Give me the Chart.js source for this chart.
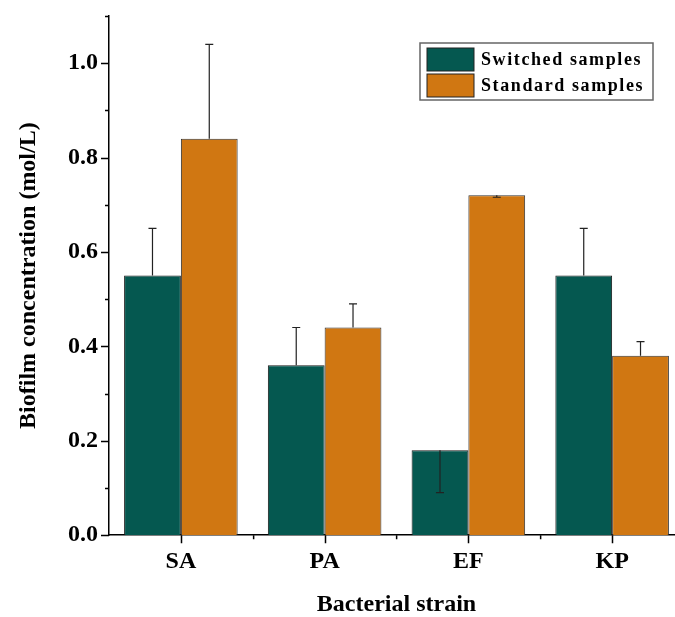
<!DOCTYPE html>
<html>
<head>
<meta charset="utf-8">
<script src="https://cdn.jsdelivr.net/npm/chart.js@4.4.1/dist/chart.umd.min.js"></script>
<style>
  html, body { margin: 0; padding: 0; background: #fff; overflow: hidden; }
  #wrap { width: 700px; height: 617px; }
</style>
</head>
<body>
<div id="wrap"><canvas id="grafica" width="700" height="617"></canvas></div>
<script>
// datos
const cepas = ['SA', 'PA', 'EF', 'KP'];
const switched = [0.55, 0.36, 0.18, 0.55];
const standard = [0.84, 0.44, 0.72, 0.38];
// extremo de la barra de error (puede quedar por debajo de la barra)
const switchedErrEnd = [0.65, 0.44, 0.09, 0.65];
const standardErrEnd = [1.04, 0.49, 0.716, 0.41];
const yMajorTicks = [0, 0.2, 0.4, 0.6, 0.8, 1.0];

const fuente = '"Liberation Serif", "Times New Roman", serif';
const colorVerde = '#055850';
const colorNaranja = '#D07712';

// barras de error
const errorBars = {
    id: 'errorBars',
    afterDatasetsDraw(chart) {
        const ctx = chart.ctx;
        const y = chart.scales.y;
        chart.data.datasets.forEach((ds, i) => {
            const meta = chart.getDatasetMeta(i);
            meta.data.forEach((bar, j) => {
                const yEnd = y.getPixelForValue(ds.errEnd[j]);
                ctx.save();
                ctx.strokeStyle = '#222';
                ctx.lineWidth = 1.2;
                ctx.beginPath();
                ctx.moveTo(bar.x, bar.y);
                ctx.lineTo(bar.x, yEnd);
                ctx.moveTo(bar.x - 4, yEnd);
                ctx.lineTo(bar.x + 4, yEnd);
                ctx.stroke();
                ctx.restore();
            });
        });
    }
};

// marcas de los ejes (mayores y menores)
const axisTicks = {
    id: 'axisTicks',
    afterDraw(chart) {
        const ctx = chart.ctx;
        const x = chart.scales.x;
        const y = chart.scales.y;
        const area = chart.chartArea;
        ctx.save();
        ctx.strokeStyle = '#000';
        ctx.lineWidth = 1.5;
        ctx.beginPath();
        y.ticks.forEach(t => {
            const py = Math.round(y.getPixelForValue(t.value)) + 0.5;
            const major = yMajorTicks.some(v => Math.abs(v - t.value) < 1e-6);
            ctx.moveTo(area.left, py);
            ctx.lineTo(area.left - (major ? 8 : 4), py);
        });
        const half = (x.getPixelForValue(1) - x.getPixelForValue(0)) / 2;
        cepas.forEach((c, i) => {
            const px = Math.round(x.getPixelForValue(i)) + 0.5;
            ctx.moveTo(px, area.bottom);
            ctx.lineTo(px, area.bottom + 8);
            if (i > 0) {
                ctx.moveTo(px - half, area.bottom);
                ctx.lineTo(px - half, area.bottom + 4);
            }
        });
        ctx.stroke();
        ctx.restore();
    }
};

// leyenda con recuadro
const legendBox = {
    id: 'legendBox',
    afterDraw(chart) {
        const ctx = chart.ctx;
        const area = chart.chartArea;
        const bx = area.left + 311, by = area.top + 27;
        const bw = 233, bh = 57;
        ctx.save();
        ctx.strokeStyle = '#666';
        ctx.lineWidth = 1.5;
        ctx.strokeRect(bx, by, bw, bh);
        chart.data.datasets.forEach((ds, i) => {
            const sy = by + 5 + i * 26;
            ctx.fillStyle = ds.backgroundColor;
            ctx.fillRect(bx + 7, sy, 47, 23);
            ctx.strokeStyle = '#222';
            ctx.lineWidth = 1;
            ctx.strokeRect(bx + 7, sy, 47, 23);
            ctx.fillStyle = '#000';
            ctx.font = 'bold 18px ' + fuente;
            ctx.letterSpacing = '1.6px';
            ctx.textBaseline = 'middle';
            ctx.fillText(ds.label, bx + 61, sy + 12);
        });
        ctx.restore();
    }
};

new Chart(document.getElementById('grafica'), {
    type: 'bar',
    data: {
        labels: cepas,
        datasets: [
            {
                label: 'Switched samples',
                data: switched,
                errEnd: switchedErrEnd,
                backgroundColor: colorVerde,
                borderColor: '#1a1a1a',
                borderWidth: 1
            },
            {
                label: 'Standard samples',
                data: standard,
                errEnd: standardErrEnd,
                backgroundColor: colorNaranja,
                borderColor: '#333',
                borderWidth: 1
            }
        ]
    },
    options: {
        responsive: false,
        animation: false,
        layout: { padding: { top: 16, right: 16, left: 5, bottom: 0 } },
        categoryPercentage: 0.79,
        barPercentage: 1.0,
        plugins: {
            legend: { display: false },
            tooltip: { enabled: false }
        },
        scales: {
            x: {
                grid: { display: false, drawTicks: false },
                border: { display: true, color: '#000', width: 1.5 },
                ticks: {
                    color: '#000',
                    padding: 12,
                    font: { family: fuente, size: 24, weight: 'bold' }
                },
                title: {
                    display: true,
                    text: 'Bacterial strain',
                    color: '#000',
                    padding: { top: 5, bottom: 0 },
                    font: { family: fuente, size: 24, weight: 'bold', lineHeight: 1 }
                }
            },
            y: {
                min: 0,
                max: 1.1,
                grid: { display: false, drawTicks: false },
                border: { display: true, color: '#000', width: 1.5 },
                afterFit: s => { s.paddingTop = 0; s.paddingBottom = 0; },
                ticks: {
                    stepSize: 0.1,
                    color: '#000',
                    padding: 11,
                    font: { family: fuente, size: 24, weight: 'bold' },
                    callback: v => yMajorTicks.some(m => Math.abs(m - v) < 1e-6) ? v.toFixed(1) : ''
                },
                title: {
                    display: true,
                    text: 'Biofilm concentration (mol/L)',
                    color: '#000',
                    padding: { top: 12, bottom: 16 },
                    font: { family: fuente, size: 24, weight: 'bold', lineHeight: 1 }
                }
            }
        }
    },
    plugins: [errorBars, axisTicks, legendBox]
});
</script>
</body>
</html>
